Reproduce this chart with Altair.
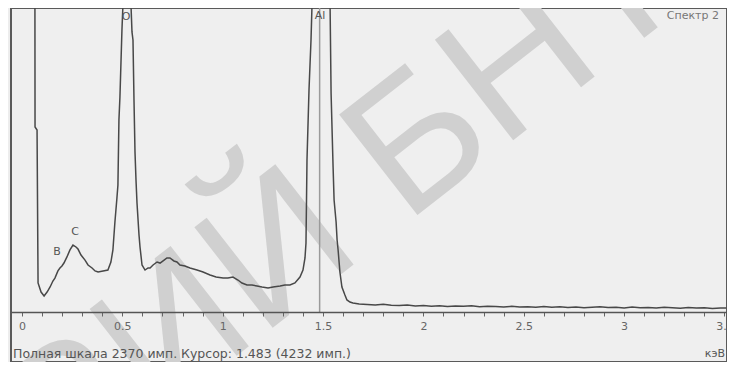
import altair as alt
import pandas as pd

# ---- spectrum (energy in keV, counts in imp.) ----
kev = [0.062, 0.065, 0.075, 0.080, 0.095, 0.110, 0.125, 0.140, 0.154, 0.164, 0.179, 0.189,
       0.199, 0.209, 0.224, 0.239, 0.254, 0.269, 0.279, 0.294, 0.314, 0.329, 0.349, 0.364,
       0.379, 0.404, 0.428, 0.443, 0.453, 0.463, 0.473, 0.478, 0.483, 0.488, 0.498, 0.503,
       0.513, 0.523, 0.533, 0.543, 0.548, 0.553, 0.558, 0.563, 0.568, 0.573, 0.583, 0.588,
       0.598, 0.613, 0.628, 0.638, 0.653, 0.673, 0.688, 0.708, 0.722, 0.737, 0.757, 0.772,
       0.787, 0.812, 0.837, 0.872, 0.902, 0.937, 0.967, 1.002, 1.026, 1.051, 1.076, 1.096,
       1.121, 1.146, 1.171, 1.196, 1.226, 1.251, 1.286, 1.310, 1.335, 1.360, 1.385, 1.400,
       1.410, 1.415, 1.420, 1.430, 1.440, 1.445, 1.460, 1.483, 1.520, 1.535, 1.540, 1.550,
       1.555, 1.565, 1.570, 1.575, 1.584, 1.594, 1.609, 1.619, 1.634, 1.649,
       1.68, 1.72, 1.76, 1.80, 1.84, 1.88, 1.92, 1.96, 2.00, 2.04, 2.08, 2.12, 2.16, 2.20,
       2.24, 2.28, 2.32, 2.36, 2.40, 2.44, 2.48, 2.52, 2.56, 2.60, 2.64, 2.68, 2.72, 2.76,
       2.80, 2.84, 2.88, 2.92, 2.96, 3.00, 3.04, 3.08, 3.12, 3.16, 3.20, 3.24, 3.28, 3.32,
       3.36, 3.40, 3.44, 3.48, 3.51]
counts = [6000, 1428, 1405, 224, 154, 124, 154, 193, 239, 262, 317, 340,
          355, 378, 425, 479, 517, 502, 486, 440, 401, 363, 340, 317,
          309, 317, 324, 386, 479, 695, 880, 980, 1482, 1660, 2177, 2370,
          3100, 3400, 3000, 2370, 2162, 2100, 1637, 1235, 1019, 841, 594, 502,
          363, 324, 340, 340, 363, 386, 378, 401, 417, 417, 394, 386,
          363, 355, 340, 324, 309, 286, 270, 262, 262, 270, 247, 224,
          208, 208, 201, 193, 185, 193, 201, 208, 208, 224, 270, 324,
          417, 533, 1173, 1714, 2100, 2370, 3500, 4232, 3500, 2370, 1691, 1119,
          865, 695, 556, 479, 309, 193, 131, 93, 77, 69,
          62, 58, 55, 60, 52, 50, 54, 47, 50, 45, 49, 43, 46, 44,
          48, 40, 45, 42, 38, 44, 39, 41, 36, 42, 37, 40, 35, 39,
          33, 37, 41, 34, 36, 31, 38, 33, 35, 30, 36, 32, 29, 34,
          30, 33, 28, 31, 30]

# element labels
el_names = ["O", "Al", "B", "C"]
el_kev = [0.518, 1.485, 0.174, 0.264]
el_pos = [2277, 2285, 463, 618]

cursor_kev = [1.483]
tick_values = [round(i * 0.1, 1) for i in range(36)]

spec = pd.DataFrame({"kev": kev, "counts": counts, "i": list(range(len(kev)))})
labels = pd.DataFrame({"name": el_names, "kev": el_kev, "pos": el_pos})
cursor = pd.DataFrame({"kev": cursor_kev, "y0": [0], "y1": [2347]})

xdom = [-0.0548, 3.5127]
ydom = [-386, 2347]
FONT = "DejaVu Sans"

xs = alt.Scale(domain=xdom, nice=False, zero=False)
ys = alt.Scale(domain=ydom, nice=False, zero=False)

X_AXIS = alt.Axis(
    values=tick_values,
    labelExpr="(abs(datum.value*2 - round(datum.value*2)) < 0.001) ? format(datum.value, '.1~f') : ''",
    offset=-50,
    zindex=1,
    domainColor="#555555", domainWidth=1.5,
    tickColor="#666666", tickSize=4, tickWidth=1,
    labelColor="#666666", labelFont=FONT, labelFontSize=11, labelPadding=4,
    labelFlush=False, labelOverlap=False,
    grid=False, title=None,
)


def X(field):
    return alt.X(field, scale=xs, axis=X_AXIS)


def Y(field):
    return alt.Y(field, scale=ys, axis=None)


# watermark (decorative)
wm1 = alt.Chart(pd.DataFrame({"t": ["БНТУ"]})).mark_text(
    align="left", baseline="middle", angle=322, fontSize=185,
    font="Liberation Sans", color="#d0d0d0"
).encode(text="t:N", x=alt.value(360), y=alt.value(172))
wm2 = alt.Chart(pd.DataFrame({"t": ["РИЙ"]})).mark_text(
    align="right", baseline="middle", angle=322, fontSize=185,
    font="Liberation Sans", color="#d0d0d0"
).encode(text="t:N", x=alt.value(320), y=alt.value(203))

cursor_rule = alt.Chart(cursor).mark_rule(color="#9a9a9a", strokeWidth=1.5).encode(
    x=X("kev:Q"),
    y=Y("y0:Q"),
    y2="y1:Q",
)

line = alt.Chart(spec).mark_line(color="#484848", strokeWidth=1.5, clip=True).encode(
    x=X("kev:Q"),
    y=Y("counts:Q"),
    order="i:Q",
)

el_text = alt.Chart(labels).mark_text(
    font=FONT, fontSize=11, color="#555555", align="center", baseline="middle"
).encode(
    x=X("kev:Q"),
    y=Y("pos:Q"),
    text="name:N",
)

title_txt = alt.Chart(pd.DataFrame({"t": ["Спектр 2"]})).mark_text(
    font=FONT, fontSize=11, color="#777777", align="right", baseline="middle"
).encode(text="t:N", x=alt.value(708), y=alt.value(8))

footer = alt.Chart(pd.DataFrame({"t": ["Полная шкала 2370 имп.  Курсор: 1.483  (4232 имп.)"]})).mark_text(
    font=FONT, fontSize=12.5, color="#555555", align="left", baseline="middle"
).encode(text="t:N", x=alt.value(2), y=alt.value(346))

unit = alt.Chart(pd.DataFrame({"t": ["кэВ"]})).mark_text(
    font=FONT, fontSize=11, color="#555555", align="right", baseline="middle"
).encode(text="t:N", x=alt.value(714), y=alt.value(346))

chart = alt.layer(
    wm2, wm1, cursor_rule, line, el_text, title_txt, footer, unit
).properties(
    width=716, height=354,
    padding={"left": 3, "top": 0, "right": 0, "bottom": 0},
    autosize=alt.AutoSizeParams(type="none"),
    background="#ededed",
).configure_view(
    stroke="#5a5a5a", strokeWidth=2, fill="#efefef"
)

chart.save("out.html", embed_options={"renderer": "svg", "actions": False})
